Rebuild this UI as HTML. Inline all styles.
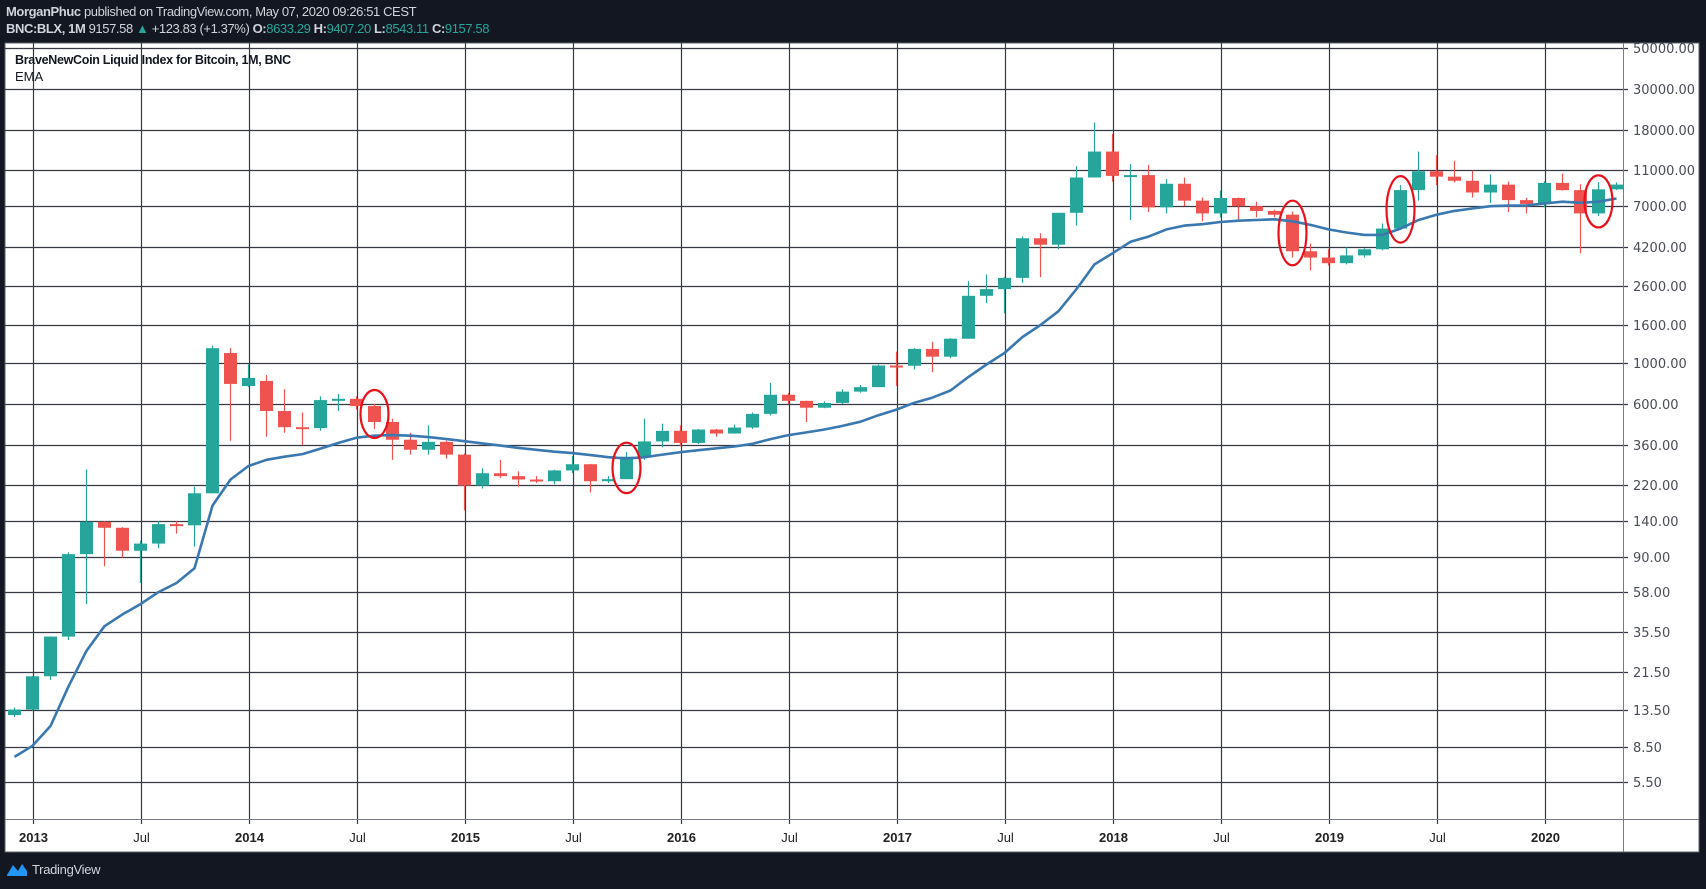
<!DOCTYPE html>
<html><head><meta charset="utf-8">
<style>
html,body{margin:0;padding:0;background:#131722;}
body{width:1706px;height:889px;overflow:hidden;position:relative;font-family:"Liberation Sans",sans-serif;}
#hdr1{position:absolute;left:6px;top:4px;color:#d1d4dc;font-size:13px;letter-spacing:-0.4px;}
#hdr2{position:absolute;left:6px;top:21px;color:#d1d4dc;font-size:13px;letter-spacing:-0.4px;}
.g{color:#26a69a}
#logo{position:absolute;left:6px;top:861px;color:#d1d4dc;font-size:13px;display:flex;align-items:center;gap:4px;letter-spacing:-0.3px;}
svg{position:absolute;left:0;top:0;}
</style></head><body>
<div id="hdr1"><b>MorganPhuc</b> published on TradingView.com, May 07, 2020 09:26:51 CEST</div>
<div id="hdr2"><b>BNC:BLX, 1M</b> 9157.58 <span class="g">▲</span> +123.83 (+1.37%) <b>O:</b><span class="g">8633.29</span> <b>H:</b><span class="g">9407.20</span> <b>L:</b><span class="g">8543.11</span> <b>C:</b><span class="g">9157.58</span></div>
<svg id="chart" width="1706" height="889"></svg>
<div id="logo"><svg width="22" height="16" style="position:static" viewBox="0 0 22 16"><path d="M1 14 L7 4 L12 10 L16 3 L21 10 L21 15 L1 15Z" fill="#2196f3"/></svg>TradingView</div>
<script>
const opens=[12.6,13.5,20.4,33.4,93,139,129,97,106,135,133,198,1130,750,800,550,450,445,630,640,585,480,385,340,375,320,218,254,245,235,230,263,284,230,236,312,377,430,370,437,416,448,531,673,624,573,608,700,740,968,965,1190,1080,1350,2300,2500,2875,4700,4340,6450,10000,13800,10200,10300,6900,9250,7500,6400,7750,7000,6600,6300,4000,3700,3450,3800,4100,5300,8550,10800,10100,9600,8300,9150,7550,7200,9350,8550,6400,8633];
const highs=[13.8,20.5,33.5,95,266,140,130,110,140,140,215,1242,1200,980,860,720,540,660,680,660,600,500,420,460,380,325,270,300,260,245,265,315,285,245,330,500,470,460,440,440,465,540,780,690,625,620,720,760,980,1150,1200,1300,1360,2760,3000,2900,4800,5000,6450,11500,19800,17200,11800,11700,9800,10000,7800,8500,7800,7400,6700,6550,4400,4100,4200,4150,5650,9100,13800,13200,12300,10900,10400,9500,7750,9550,10500,9200,9450,9407];
const lows=[12.3,13.3,19.5,32,50,80,89,65,100,120,102,198,380,740,400,420,360,430,550,560,440,300,320,320,305,160,210,240,215,225,222,255,200,225,236,300,350,355,365,400,415,440,520,600,480,570,600,690,740,750,920,890,1060,1350,2100,1850,2700,2900,4100,5500,10000,9500,5900,6500,6400,7000,5800,6100,5800,6100,6100,3700,3150,3350,3400,3700,4050,5300,7500,9100,9400,7800,7300,6500,6400,6900,8500,3900,6200,8543];
const closes=[13.5,20.4,33.4,93,139,129,97,106,135,133,198,1200,770,830,550,450,445,630,640,585,480,385,340,375,320,218,254,245,235,230,263,284,230,236,312,377,430,370,437,416,448,531,673,624,573,608,700,740,968,965,1190,1080,1350,2300,2500,2875,4700,4340,6450,10000,13800,10200,10300,6900,9250,7500,6400,7750,7000,6600,6300,4000,3700,3450,3800,4100,5300,8550,10800,10100,9600,8300,9150,7550,7200,9350,8550,6400,8633,9157];
const ema=[7.5,8.6,11,18,28,38,44,50,58,65,78,170,235,278,300,312,322,345,370,395,405,408,405,398,388,378,368,358,348,340,332,326,318,310,305,310,320,330,338,346,354,366,388,408,422,437,457,482,522,560,610,650,710,840,980,1130,1380,1600,1900,2500,3400,3900,4500,4800,5250,5500,5600,5750,5850,5900,5950,5800,5550,5250,5050,4900,4900,5300,5900,6300,6600,6800,7000,7050,7050,7250,7400,7300,7400,7700];
const priceTicks=[50000,30000,18000,11000,7000,4200,2600,1600,1000,600,360,220,140,90,58,35.5,21.5,13.5,8.5,5.5];
const timeLabels=["2013","Jul","2014","Jul","2015","Jul","2016","Jul","2017","Jul","2018","Jul","2019","Jul","2020"];
const circleIdx=[20,34,71,77,88];

const NS="http://www.w3.org/2000/svg";
const svg=document.getElementById('chart');
const L=5,T=43,R=1699,B=852,PR=1623,PB=819;
function y(v){return 47.9+(Math.log10(50000)-Math.log10(v))*185.4;}
function x(i){return 32.5+18*(i-1);}
function mk(t,a,parent){const e=document.createElementNS(NS,t);for(const k in a)e.setAttribute(k,a[k]);(parent||svg).appendChild(e);return e;}
const bg=mk('rect',{x:L,y:T,width:R-L,height:B-T,fill:'#ffffff',stroke:'#5d606b','stroke-width':1});


priceTicks.forEach(v=>{
 const yy=Math.round(y(v))+0.5;
 const gl=mk('line',{x1:L,x2:PR+5,y1:yy,y2:yy,stroke:'#363a45','stroke-width':1.2});
 
 
 const t=mk('text',{x:PR+10,y:yy+4.5,fill:'#4a4d57','font-size':13,'font-family':'DejaVu Sans, sans-serif'});
 t.textContent=v.toFixed(2);
 
 
});
timeLabels.forEach((lab,k)=>{
 const xx=Math.round(x(1+6*k))+0.5;
 const vl=mk('line',{x1:xx,x2:xx,y1:T,y2:PB+5,stroke:'#363a45','stroke-width':1.2});
 
 
 const t=mk('text',{x:xx,y:842,fill:'#222','font-size':13,'text-anchor':'middle','font-weight':lab==='Jul'?'normal':'bold','font-family':'Liberation Sans, sans-serif'});
 t.textContent=lab;
 
 
});
const ax1=mk('line',{x1:PR+0.5,x2:PR+0.5,y1:T,y2:B,stroke:'#787b86','stroke-width':1});


const ax2=mk('line',{x1:L,x2:R,y1:PB+0.5,y2:PB+0.5,stroke:'#787b86','stroke-width':1});


for(let i=0;i<closes.length;i++){
 const up=closes[i]>=opens[i];const c=up?'#26a69a':'#ef5350';
 const g=mk('g',{});
 
 
 mk('line',{x1:x(i),x2:x(i),y1:y(highs[i]),y2:y(lows[i]),stroke:c,'stroke-width':1.2},g);
 const t=Math.min(y(opens[i]),y(closes[i])),h=Math.max(2,Math.abs(y(opens[i])-y(closes[i])));
 mk('rect',{x:x(i)-6.5,y:t,width:13,height:h,fill:c},g);
}
let d='';ema.forEach((v,i)=>{d+=(i?'L':'M')+x(i).toFixed(1)+' '+y(v).toFixed(1);});
const el=mk('path',{d:d,fill:'none',stroke:'#3a78b0','stroke-width':2.6,'stroke-linejoin':'round'});


circleIdx.forEach(i=>{
 const cy=(y(opens[i])+y(closes[i]))/2;
 const ry=Math.max(24,Math.abs(y(opens[i])-y(closes[i]))/2+14);
 const e=mk('ellipse',{cx:x(i),cy:cy,rx:14,ry:ry,fill:'none',stroke:'#e8101a','stroke-width':2.2});
 
 
});
const l1=mk('text',{x:15,y:64,fill:'#131722','font-size':12.5,'font-weight':'bold','letter-spacing':'-0.3'});
l1.textContent='BraveNewCoin Liquid Index for Bitcoin, 1M, BNC';


const l2=mk('text',{x:15,y:81,fill:'#131722','font-size':13});
l2.textContent='EMA';


</script>
</body></html>
